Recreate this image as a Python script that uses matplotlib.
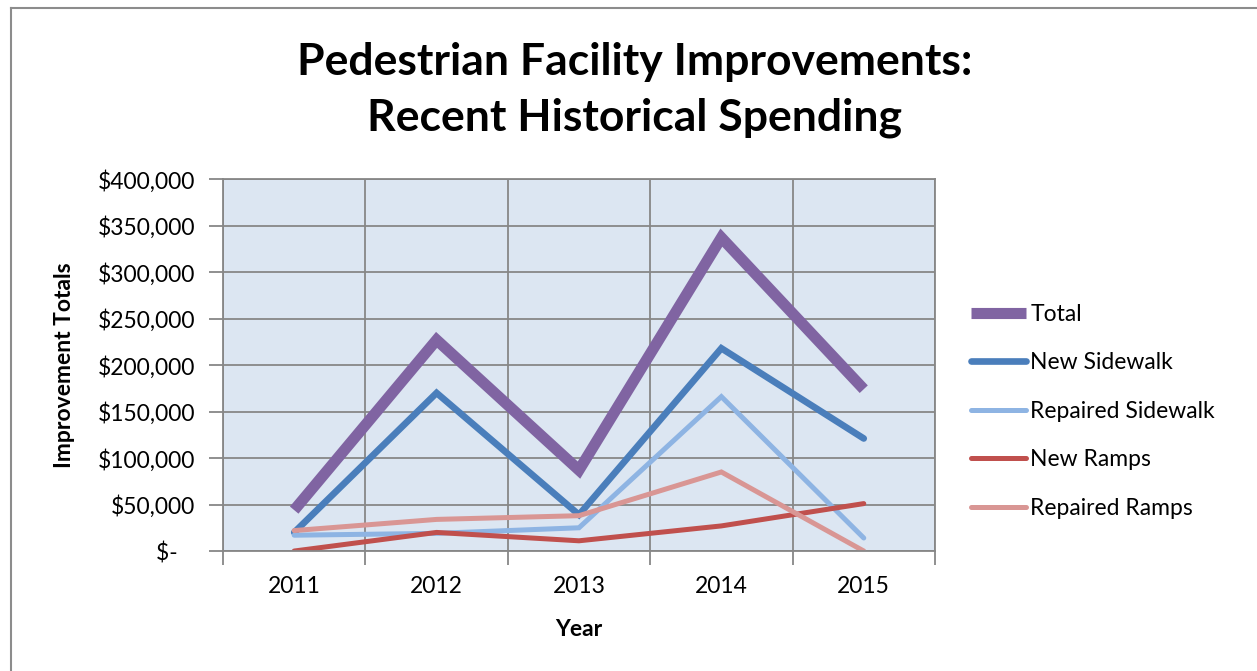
import numpy as np
import matplotlib
matplotlib.use("Agg")
import matplotlib.pyplot as plt
from matplotlib.lines import Line2D
from matplotlib.ticker import FuncFormatter, MultipleLocator

plt.rcParams["font.family"] = ["Lato", "DejaVu Sans"]

# ---- data ----
years = ["2011", "2012", "2013", "2014", "2015"]
total = [44000, 227000, 87000, 337000, 174000]
new_sidewalk = [20000, 170000, 39000, 218000, 121000]
repaired_sidewalk = [17000, 19000, 25000, 166000, 14000]
new_ramps = [0, 20000, 11000, 27000, 51000]
repaired_ramps = [22000, 34000, 38000, 85000, 0]

series = [
    ("Total", total, "#8064A2", 8.0, "butt"),
    ("New Sidewalk", new_sidewalk, "#4A7EBB", 4.8, "round"),
    ("Repaired Sidewalk", repaired_sidewalk, "#8EB4E3", 3.6, "round"),
    ("New Ramps", new_ramps, "#C0504D", 3.6, "round"),
    ("Repaired Ramps", repaired_ramps, "#D99694", 3.6, "round"),
]

fig = plt.figure(figsize=(12.57, 6.71), dpi=100)
ax = fig.add_axes([0.1774, 0.1788, 0.5664, 0.5544])
ax.set_facecolor("#DCE6F2")

x = np.arange(len(years))
for name, vals, col, lw, cap in series:
    ax.plot(x, vals, color=col, lw=lw, label=name,
            solid_capstyle=cap, solid_joinstyle="miter")

grid_col = "#878787"
ax.set_xlim(-0.5, len(years) - 0.5)
ax.set_ylim(0, 400000)
ax.yaxis.set_major_locator(MultipleLocator(50000))
ax.yaxis.set_major_formatter(FuncFormatter(
    lambda v, p: "$-   " if v == 0 else f"${v:,.0f}"))
ax.set_xticks(x)
ax.set_xticklabels(years)
ax.set_xticks(np.arange(-0.5, len(years)), minor=True)
ax.grid(True, which="major", axis="y", color=grid_col, lw=1.3)
ax.grid(True, which="minor", axis="x", color=grid_col, lw=1.3)
ax.set_axisbelow(True)
ax.tick_params(axis="x", which="major", length=0, pad=18, labelsize=16.5)
ax.tick_params(axis="x", which="minor", length=10, color=grid_col, width=1.3)
ax.tick_params(axis="y", length=10, color=grid_col, width=1.3, pad=10,
               labelsize=16.5)
for s in ax.spines.values():
    s.set_color(grid_col)
    s.set_linewidth(1.3)

ax.set_ylabel("Improvement Totals", fontsize=16.5, fontweight="bold", labelpad=16)
ax.set_xlabel("Year", fontsize=16.5, fontweight="bold", labelpad=16)

fig.text(0.505, 0.866, "Pedestrian Facility Improvements:\nRecent Historical Spending",
         ha="center", va="center", fontsize=32, fontweight="bold",
         linespacing=1.45)

leg = ax.legend(loc="center left", bbox_to_anchor=(1.05, 0.376), frameon=False,
                fontsize=16.5, handlelength=2.4, labelspacing=1.2,
                handletextpad=0.2, borderaxespad=0, borderpad=0)

# outer chart border (cropped on right and bottom)
fig.add_artist(Line2D([11 / 1257, 11 / 1257], [0, 1 - 8 / 671],
                      transform=fig.transFigure, color="#8c8c8c", lw=1.5))
fig.add_artist(Line2D([11 / 1257, 1], [1 - 8 / 671, 1 - 8 / 671],
                      transform=fig.transFigure, color="#8c8c8c", lw=1.5))

fig.savefig("out.png", dpi=100)
